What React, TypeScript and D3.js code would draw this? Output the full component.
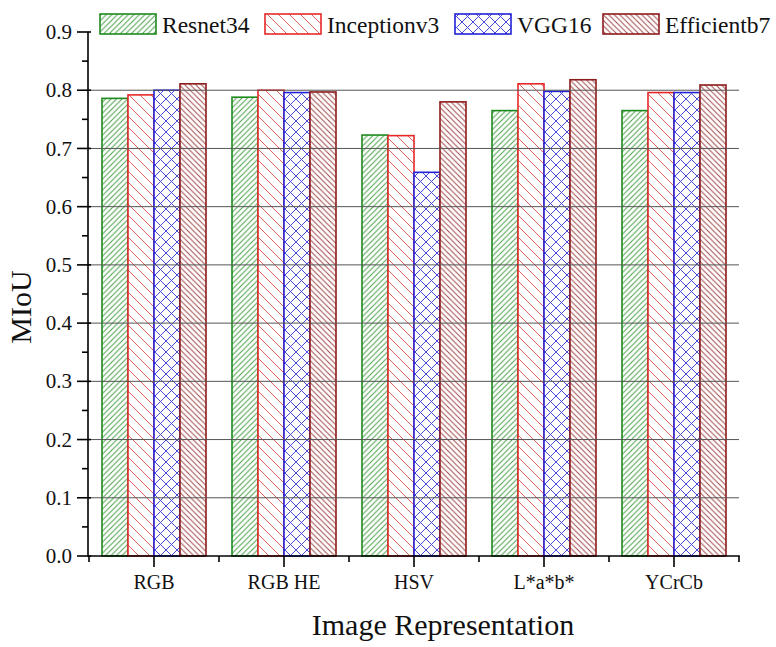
import React, { useEffect, useRef } from 'react';
import * as d3 from 'd3';

const categories = ['RGB', 'RGB HE', 'HSV', 'L*a*b*', 'YCrCb'];
const seriesNames = ['Resnet34', 'Inceptionv3', 'VGG16', 'Efficientb7'];
const resnet34 = [0.786, 0.788, 0.723, 0.765, 0.765];
const inceptionv3 = [0.792, 0.8, 0.722, 0.811, 0.796];
const vgg16 = [0.8, 0.796, 0.659, 0.798, 0.796];
const efficientb7 = [0.811, 0.797, 0.78, 0.818, 0.809];
const yTicks = [0, 0.1, 0.2, 0.3, 0.4, 0.5, 0.6, 0.7, 0.8, 0.9];

const styles = [
  { id: 'hatchGreen', stroke: '#1e8a1e', line: '#4a9f4a', dir: '/', step: 5.5, cross: false },
  { id: 'hatchRed', stroke: '#e82828', line: '#e06060', dir: '\\', step: 11, cross: false },
  { id: 'hatchBlue', stroke: '#2222d8', line: '#4a4ad8', dir: '/', step: 11, cross: true },
  { id: 'hatchDark', stroke: '#8c1c1c', line: '#a04848', dir: '\\', step: 5.5, cross: false },
];

const FONT = "'Liberation Serif', 'DejaVu Serif', serif";

const App = () => {
  const svgRef = useRef<SVGSVGElement>(null);
  const width = 776;
  const height = 647;

  useEffect(() => {
    const svg = d3.select(svgRef.current);
    svg.selectAll('*').remove();

    const values = [resnet34, inceptionv3, vgg16, efficientb7];
    const rows = categories.map((c, i) => ({ cat: c, vals: values.map((v) => v[i]) }));

    const x0 = d3.scaleBand().domain(categories).range([89, 739]).padding(0);
    const x1 = d3
      .scaleBand()
      .domain(seriesNames)
      .range([x0.bandwidth() * 0.1, x0.bandwidth() * 0.9])
      .padding(0);
    const y = d3.scaleLinear().domain([0, 0.9]).range([556, 32]);

    // hatch patterns
    const defs = svg.append('defs');
    styles.forEach((s) => {
      const p = defs
        .append('pattern')
        .attr('id', s.id)
        .attr('patternUnits', 'userSpaceOnUse')
        .attr('width', s.step)
        .attr('height', s.step);
      p.append('rect').attr('width', s.step).attr('height', s.step).attr('fill', '#fff');
      const k = s.step;
      const fwd = `M0,${k} L${k},0 M${-k / 2},${k / 2} L${k / 2},${-k / 2} M${k / 2},${k * 1.5} L${k * 1.5},${k / 2}`;
      const back = `M0,0 L${k},${k} M${-k / 2},${k / 2} L${k / 2},${k * 1.5} M${k / 2},${-k / 2} L${k * 1.5},${k / 2}`;
      const d = s.cross ? fwd + ' ' + back : s.dir === '/' ? fwd : back;
      p.append('path').attr('d', d).attr('stroke', s.line).attr('stroke-width', 1).attr('fill', 'none');
    });

    // bars
    const groups = svg
      .append('g')
      .selectAll('g')
      .data(rows)
      .join('g')
      .attr('transform', (d) => `translate(${x0(d.cat)},0)`);

    groups
      .selectAll('rect')
      .data((d) => d.vals.map((v, i) => ({ v, i })))
      .join('rect')
      .attr('x', (d) => x1(seriesNames[d.i]) as number)
      .attr('y', (d) => y(d.v))
      .attr('width', x1.bandwidth())
      .attr('height', (d) => y(0) - y(d.v))
      .attr('fill', (d) => `url(#${styles[d.i].id})`)
      .attr('stroke', (d) => styles[d.i].stroke)
      .attr('stroke-width', 1.6);

    // gridlines on top of bars
    svg
      .append('g')
      .selectAll('line')
      .data(yTicks.filter((t) => t > 0 && t < 0.85))
      .join('line')
      .attr('x1', 88)
      .attr('x2', 739)
      .attr('y1', (d) => y(d))
      .attr('y2', (d) => y(d))
      .attr('stroke', '#555')
      .attr('stroke-width', 1);

    // y axis
    const ya = svg.append('g');
    ya.append('line')
      .attr('x1', 88).attr('x2', 88)
      .attr('y1', y(0.9)).attr('y2', y(0) + 0.8)
      .attr('stroke', '#000').attr('stroke-width', 1.6);
    ya.selectAll('line.major')
      .data(yTicks)
      .join('line')
      .attr('class', 'major')
      .attr('x1', 77).attr('x2', 91)
      .attr('y1', (d) => y(d)).attr('y2', (d) => y(d))
      .attr('stroke', '#000').attr('stroke-width', 1.6);
    ya.selectAll('line.minor')
      .data(yTicks.slice(0, -1).map((t) => t + 0.05))
      .join('line')
      .attr('class', 'minor')
      .attr('x1', 82).attr('x2', 88)
      .attr('y1', (d) => y(d)).attr('y2', (d) => y(d))
      .attr('stroke', '#000').attr('stroke-width', 1.6);
    ya.selectAll('text')
      .data(yTicks)
      .join('text')
      .attr('x', 72)
      .attr('y', (d) => y(d))
      .attr('dy', '0.34em')
      .attr('text-anchor', 'end')
      .style('font-family', FONT)
      .style('font-size', '21px')
      .attr('fill', '#111')
      .text((d) => d.toFixed(1));

    // x axis
    const xa = svg.append('g');
    xa.append('line')
      .attr('x1', 87.2).attr('x2', 739.8)
      .attr('y1', y(0)).attr('y2', y(0))
      .attr('stroke', '#000').attr('stroke-width', 1.6);
    xa.selectAll('line.major')
      .data(categories)
      .join('line')
      .attr('class', 'major')
      .attr('x1', (d) => (x0(d) as number) + x0.bandwidth() / 2)
      .attr('x2', (d) => (x0(d) as number) + x0.bandwidth() / 2)
      .attr('y1', y(0)).attr('y2', y(0) + 11)
      .attr('stroke', '#000').attr('stroke-width', 1.6);
    const bounds = categories.map((d) => x0(d) as number).concat([x0.range()[1]]);
    xa.selectAll('line.minor')
      .data(bounds)
      .join('line')
      .attr('class', 'minor')
      .attr('x1', (d) => d).attr('x2', (d) => d)
      .attr('y1', y(0)).attr('y2', y(0) + 6)
      .attr('stroke', '#000').attr('stroke-width', 1.6);
    xa.selectAll('text')
      .data(categories)
      .join('text')
      .attr('x', (d) => (x0(d) as number) + x0.bandwidth() / 2)
      .attr('y', 589)
      .attr('text-anchor', 'middle')
      .style('font-family', FONT)
      .style('font-size', '20px')
      .attr('fill', '#111')
      .text((d) => d);

    // axis titles
    svg.append('text')
      .attr('x', 443).attr('y', 635)
      .attr('text-anchor', 'middle')
      .style('font-family', FONT).style('font-size', '30px').attr('fill', '#111')
      .text('Image Representation');
    svg.append('text')
      .attr('transform', 'translate(31,307) rotate(-90)')
      .attr('text-anchor', 'middle')
      .style('font-family', FONT).style('font-size', '30px').attr('fill', '#111')
      .text('MIoU');

    // legend (swatch left edges as in the original figure)
    const legendX = [100, 265, 455, 603];
    const lg = svg.append('g');
    seriesNames.forEach((name, i) => {
      const lx = legendX[i];
      lg.append('rect')
        .attr('x', lx).attr('y', 14)
        .attr('width', 56).attr('height', 20)
        .attr('fill', `url(#${styles[i].id})`)
        .attr('stroke', styles[i].stroke)
        .attr('stroke-width', 1.6);
      lg.append('text')
        .attr('x', lx + 62).attr('y', 33)
        .style('font-family', FONT).style('font-size', '23.5px').attr('fill', '#111')
        .text(name);
    });
  }, []);

  return (
    <svg
      ref={svgRef}
      width={width}
      height={height}
      style={{ position: 'absolute', left: 0, top: 0, background: '#fff' }}
    />
  );
};

export default App;
